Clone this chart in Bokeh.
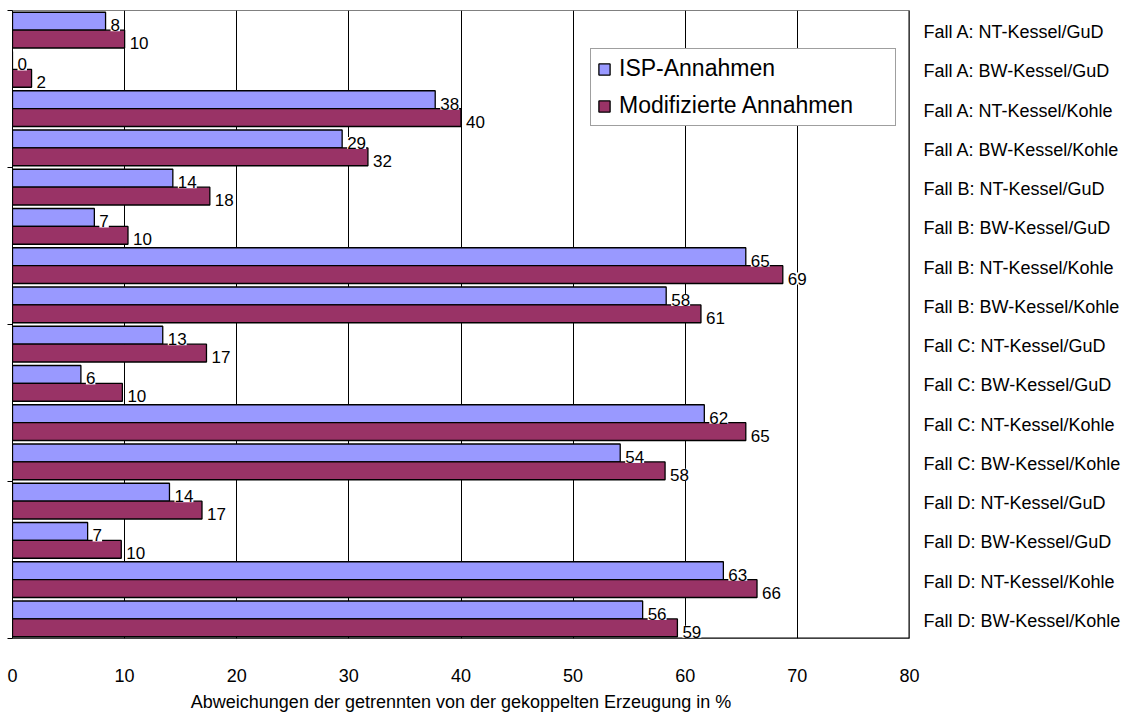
from bokeh.plotting import figure
from bokeh.models import (ColumnDataSource, Range1d, LinearAxis, FixedTicker,
                          LabelSet, Legend, LegendItem, Span)
from bokeh.core.properties import value
from bokeh.embed import file_html
from bokeh.resources import INLINE

categories = [
    "Fall A: NT-Kessel/GuD", "Fall A: BW-Kessel/GuD", "Fall A: NT-Kessel/Kohle", "Fall A: BW-Kessel/Kohle",
    "Fall B: NT-Kessel/GuD", "Fall B: BW-Kessel/GuD", "Fall B: NT-Kessel/Kohle", "Fall B: BW-Kessel/Kohle",
    "Fall C: NT-Kessel/GuD", "Fall C: BW-Kessel/GuD", "Fall C: NT-Kessel/Kohle", "Fall C: BW-Kessel/Kohle",
    "Fall D: NT-Kessel/GuD", "Fall D: BW-Kessel/GuD", "Fall D: NT-Kessel/Kohle", "Fall D: BW-Kessel/Kohle",
]
isp_values = [8.3, 0.0, 37.7, 29.4, 14.3, 7.3, 65.4, 58.3, 13.4, 6.1, 61.7, 54.2, 14.0, 6.7, 63.4, 56.2]
mod_values = [10.0, 1.7, 40.0, 31.7, 17.6, 10.3, 68.7, 61.4, 17.3, 9.8, 65.4, 58.2, 16.9, 9.7, 66.4, 59.3]
isp_labels = [8, 0, 38, 29, 14, 7, 65, 58, 13, 6, 62, 54, 14, 7, 63, 56]
mod_labels = [10, 2, 40, 32, 18, 10, 69, 61, 17, 10, 65, 58, 17, 10, 66, 59]
series_names = ["ISP-Annahmen", "Modifizierte Annahmen"]
x_ticks = [0, 10, 20, 30, 40, 50, 60, 70, 80]
group_bounds = [0, 4, 8, 12, 16]
x_title = "Abweichungen der getrennten von der gekoppelten Erzeugung in %"

FONT = "Liberation Sans"
ISP_COLOR = "#9999FF"
MOD_COLOR = "#993366"

n = len(categories)
idx = list(range(n))
src = ColumnDataSource(dict(
    y_isp=[i + 0.2725 for i in idx],
    y_mod=[i + 0.7275 for i in idx],
    isp=isp_values,
    mod=mod_values,
    isp_lbl=[str(v) for v in isp_labels],
    mod_lbl=[str(v) for v in mod_labels],
))

W, H = 1126, 716
p = figure(width=W, height=H, x_range=Range1d(0, 80), y_range=Range1d(n, 0),
           output_backend="svg", toolbar_location=None,
           min_border_left=12, min_border_top=10, min_border_right=W - 909,
           min_border_bottom=H - 638)
p.background_fill_color = "white"
p.border_fill_color = "white"
p.outline_line_color = "#808080"
p.outline_line_width = 1

# x axis
p.xaxis.ticker = FixedTicker(ticks=x_ticks)
p.xaxis.axis_line_color = None
p.xaxis.major_tick_line_color = None
p.xaxis.minor_tick_line_color = None
p.xaxis.major_label_standoff = 24
p.xaxis.major_label_text_font = FONT
p.xaxis.major_label_text_font_size = "18px"
p.xaxis.major_label_text_color = "black"
p.xaxis.axis_label = x_title
p.xaxis.axis_label_text_font = FONT
p.xaxis.axis_label_text_font_size = "18px"
p.xaxis.axis_label_text_font_style = "normal"
p.xaxis.axis_label_text_color = "black"
p.xaxis.axis_label_standoff = 7

# left axis: only group ticks, no labels
p.yaxis.ticker = FixedTicker(ticks=group_bounds)
p.yaxis.major_label_overrides = {b: "" for b in group_bounds}
p.yaxis.major_tick_out = 5
p.yaxis.major_tick_in = 0
p.yaxis.minor_tick_line_color = None
p.yaxis.major_label_standoff = 0
p.yaxis.axis_line_color = "black"
p.yaxis.major_tick_line_color = "black"

# right axis with category names
right_ticks = [i + 0.55 for i in idx]
raxis = LinearAxis(ticker=FixedTicker(ticks=right_ticks),
                   major_label_overrides={t: c for t, c in zip(right_ticks, categories)})
raxis.axis_line_color = None
raxis.major_tick_line_color = None
raxis.minor_tick_line_color = None
raxis.major_tick_out = 0
raxis.major_tick_in = 0
raxis.major_label_standoff = 14
raxis.major_label_text_font = FONT
raxis.major_label_text_font_size = "18px"
raxis.major_label_text_color = "black"
p.add_layout(raxis, "right")

p.xgrid.ticker = FixedTicker(ticks=x_ticks)
p.xgrid.grid_line_color = "black"
p.xgrid.grid_line_width = 1
p.ygrid.grid_line_color = None

r1 = p.hbar(y="y_isp", left=0, right="isp", height=0.455, fill_color=ISP_COLOR,
            line_color="black", line_width=1.3, source=src)
r2 = p.hbar(y="y_mod", left=0, right="mod", height=0.455, fill_color=MOD_COLOR,
            line_color="black", line_width=1.3, source=src)

p.add_layout(Span(location=80, dimension="height", line_color="black", line_width=2))
p.add_layout(Span(location=n, dimension="width", line_color="black", line_width=2))

for xcol, ycol, tcol in [("isp", "y_isp", "isp_lbl"), ("mod", "y_mod", "mod_lbl")]:
    ls = LabelSet(x=xcol, y=ycol, text=tcol, source=src, x_offset=5, y_offset=-4,
                  text_baseline="middle", text_align="left",
                  text_font=value(FONT), text_font_size="17px", text_color="black",
                  background_fill_color="white")
    p.add_layout(ls)

legend = Legend(items=[LegendItem(label=series_names[0], renderers=[r1]),
                       LegendItem(label=series_names[1], renderers=[r2])],
                location=(590 - 12, 638 - 126))
legend.label_text_font = FONT
legend.label_text_font_size = "23px"
legend.label_text_color = "black"
legend.glyph_width = 14
legend.glyph_height = 14
legend.label_standoff = 8
legend.label_width = 270
legend.padding = 6
legend.spacing = 10
legend.margin = 0
legend.border_line_color = "#404040"
legend.border_line_width = 1
legend.background_fill_color = "white"
legend.background_fill_alpha = 1
p.add_layout(legend, "center")

open("out.html", "w").write(file_html(p, INLINE))
